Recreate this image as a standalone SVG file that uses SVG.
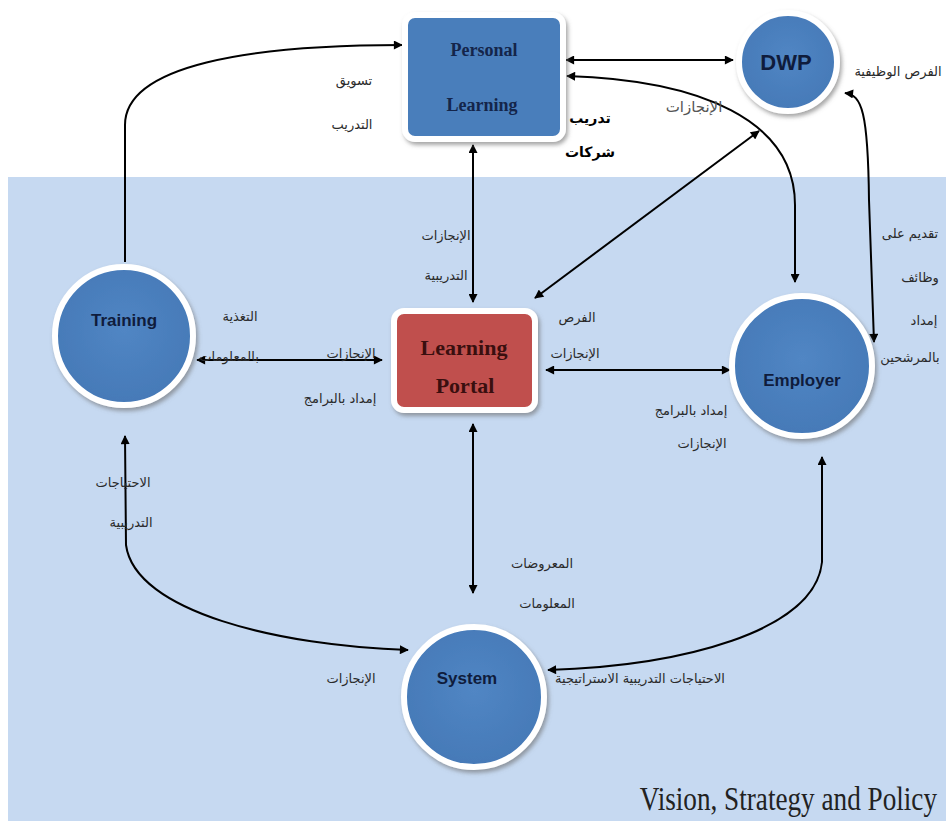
<svg xmlns="http://www.w3.org/2000/svg" width="948" height="824" viewBox="0 0 948 824">
  <defs>
    <marker id="arrow" viewBox="0 0 10 10" refX="9" refY="5" markerWidth="10" markerHeight="9" markerUnits="userSpaceOnUse" orient="auto-start-reverse">
      <path d="M0,0 L10,5 L0,10 z" fill="#000"/>
    </marker>
    <filter id="shadow" x="-20%" y="-20%" width="140%" height="140%">
      <feDropShadow dx="2" dy="3" stdDeviation="2" flood-color="#6b6b6b" flood-opacity="0.6"/>
    </filter>
    <radialGradient id="blueFill" cx="50%" cy="45%" r="60%">
      <stop offset="0" stop-color="#5186c4"/>
      <stop offset="1" stop-color="#4478b6"/>
    </radialGradient>
  </defs>
  <style>
    .panel { fill: #c6d9f1; }
    .node-blue { fill: url(#blueFill); stroke: #ffffff; stroke-width: 6; filter: url(#shadow); }
    .node-red { fill: #c0504d; stroke: #ffffff; stroke-width: 6; filter: url(#shadow); }
    .circle-label { font-family: "Liberation Sans", "DejaVu Sans", sans-serif; font-weight: bold; fill: #0f1c3c; text-anchor: middle; }
    .box-label { font-family: "Liberation Serif", "DejaVu Serif", serif; font-weight: bold; text-anchor: middle; }
    .conn { fill: none; stroke: #000; stroke-width: 2; }
    .ar { font-family: "DejaVu Sans", "Noto Sans", sans-serif; font-size: 13px; fill: #2a2a2a; text-anchor: middle; }
    .ar-bold { font-family: "DejaVu Sans", "Noto Sans", sans-serif; font-size: 14px; font-weight: bold; fill: #000; text-anchor: middle; }
    .title { font-family: "Liberation Serif", "Times New Roman", serif; font-size: 34px; fill: #222; text-anchor: end; }
  </style>

  <!-- background panel for the policy layer -->
  <rect class="panel" x="8" y="177" width="938" height="644"/>

  <!-- connectors -->
  <g id="connectors">
    <path class="conn" d="M125,262 L125,125 C125,65 250,45 402,45" marker-end="url(#arrow)"/>
    <path class="conn" d="M566,60 L733,60" marker-start="url(#arrow)" marker-end="url(#arrow)"/>
    <path class="conn" d="M567,76 C700,80 795,120 795,205 L795,282" marker-start="url(#arrow)" marker-end="url(#arrow)"/>
    <path class="conn" d="M759,131 L535,298" marker-start="url(#arrow)" marker-end="url(#arrow)"/>
    <path class="conn" d="M845,93 C862,95 868,112 869,200 L874,342" marker-start="url(#arrow)" marker-end="url(#arrow)"/>
    <path class="conn" d="M473,145 L473,302" marker-start="url(#arrow)" marker-end="url(#arrow)"/>
    <path class="conn" d="M197,360 L382,360" marker-start="url(#arrow)" marker-end="url(#arrow)"/>
    <path class="conn" d="M546,370 L730,370" marker-start="url(#arrow)" marker-end="url(#arrow)"/>
    <path class="conn" d="M473,424 L473,593" marker-start="url(#arrow)" marker-end="url(#arrow)"/>
    <path class="conn" d="M125,436 L126,545 C135,612 280,646 408,650" marker-start="url(#arrow)" marker-end="url(#arrow)"/>
    <path class="conn" d="M822,457 L822,562 C815,632 680,666 548,670" marker-start="url(#arrow)" marker-end="url(#arrow)"/>
  </g>

  <!-- nodes -->
  <g id="personal-learning">
    <rect class="node-blue" x="405" y="15" width="158" height="124" rx="10" style="fill:#4a7ebb"/>
    <text class="box-label" x="484" y="56" font-size="18" fill="#14254a">Personal</text>
    <text class="box-label" x="482" y="111" font-size="18" fill="#14254a">Learning</text>
  </g>

  <g id="dwp">
    <circle class="node-blue" cx="788" cy="62" r="49"/>
    <text class="circle-label" x="786" y="70" font-size="22">DWP</text>
  </g>

  <g id="training">
    <circle class="node-blue" cx="124" cy="336" r="69"/>
    <text class="circle-label" x="124" y="326" font-size="17">Training</text>
  </g>

  <g id="learning-portal">
    <rect class="node-red" x="394" y="311" width="141" height="99" rx="10"/>
    <text class="box-label" x="464" y="355" font-size="22" fill="#3a0f0f">Learning</text>
    <text class="box-label" x="465" y="393" font-size="22" fill="#3a0f0f">Portal</text>
  </g>

  <g id="employer">
    <circle class="node-blue" cx="802" cy="366" r="70"/>
    <text class="circle-label" x="802" y="386" font-size="17">Employer</text>
  </g>

  <g id="system">
    <circle class="node-blue" cx="474" cy="697" r="70"/>
    <text class="circle-label" x="467" y="684" font-size="17">System</text>
  </g>

  <!-- flow labels -->
  <g id="labels">
    <text class="ar" x="354" y="85">تسويق</text>
    <text class="ar" x="352" y="129">التدريب</text>
    <text class="ar-bold" x="590" y="123">تدريب</text>
    <text class="ar-bold" x="590" y="157">شركات</text>
    <text class="ar" x="694" y="112" style="font-size:15px;fill:#555">الإنجازات</text>
    <text class="ar" x="898" y="76">الفرص الوظيفية</text>

    <text class="ar" x="446" y="240">الإنجازات</text>
    <text class="ar" x="446" y="280">التدريبية</text>

    <text class="ar" x="240" y="321">التغذية</text>
    <text class="ar" x="229" y="361">بالمعلومات</text>
    <text class="ar" x="351" y="358">الإنجازات</text>
    <text class="ar" x="340" y="403">إمداد بالبرامج</text>

    <text class="ar" x="577" y="322">الفرص</text>
    <text class="ar" x="575" y="358">الإنجازات</text>
    <text class="ar" x="691" y="415">إمداد بالبرامج</text>
    <text class="ar" x="702" y="448">الإنجازات</text>

    <text class="ar" x="910" y="238">تقديم على</text>
    <text class="ar" x="920" y="282">وظائف</text>
    <text class="ar" x="924" y="325">إمداد</text>
    <text class="ar" x="910" y="362">بالمرشحين</text>

    <text class="ar" x="123" y="487">الاحتياجات</text>
    <text class="ar" x="131" y="527">التدريبية</text>
    <text class="ar" x="351" y="683">الإنجازات</text>

    <text class="ar" x="542" y="568">المعروضات</text>
    <text class="ar" x="547" y="608">المعلومات</text>
    <text class="ar" x="640" y="683">الاحتياجات التدريبية الاستراتيجية</text>
  </g>

  <!-- layer caption, drawn condensed -->
  <g transform="translate(937,810) scale(0.8,1)">
    <text class="title" x="0" y="0">Vision, Strategy and Policy</text>
  </g>
</svg>
